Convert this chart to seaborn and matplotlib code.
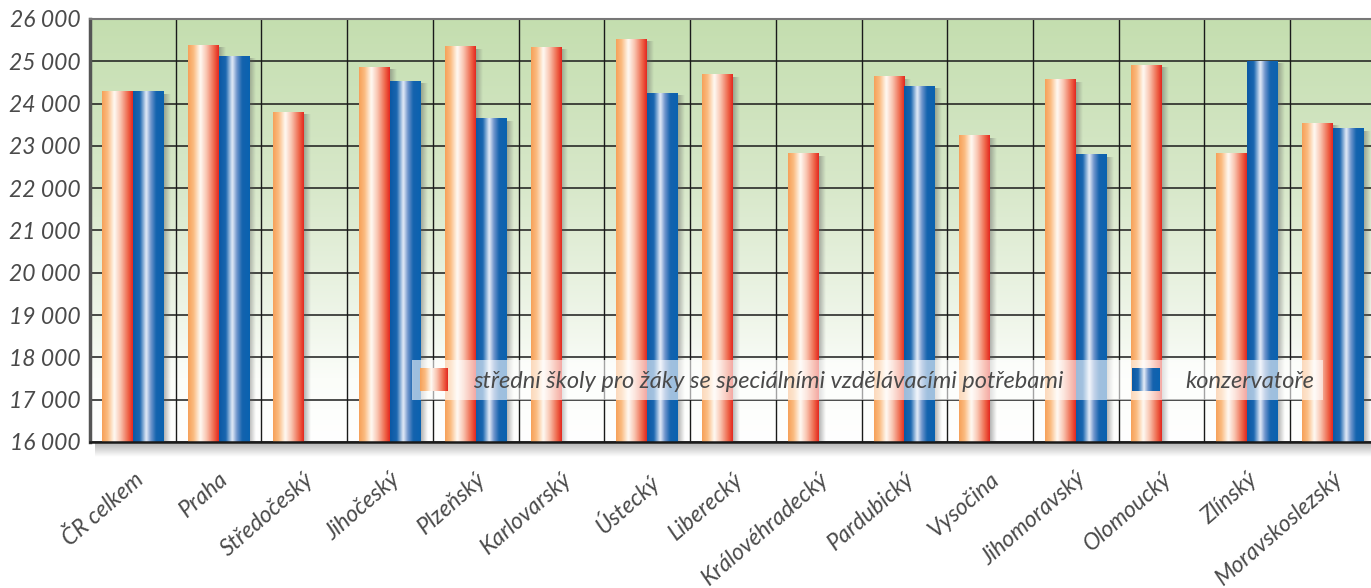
import numpy as np
import pandas as pd
import seaborn as sns
import matplotlib.pyplot as plt
from matplotlib.colors import LinearSegmentedColormap
from matplotlib.legend_handler import HandlerBase
from matplotlib.image import BboxImage
from matplotlib.transforms import Bbox, TransformedBbox

# ----------------------------------------------------------------------
# DATA
# ----------------------------------------------------------------------

regions = ["ČR celkem", "Praha", "Středočeský", "Jihočeský", "Plzeňský",
           "Karlovarský", "Ústecký", "Liberecký", "Královéhradecký",
           "Pardubický", "Vysočina", "Jihomoravský", "Olomoucký", "Zlínský",
           "Moravskoslezský"]

ss_specialni = [24280, 25385, 23800, 24865, 25345, 25330, 25520, 24685,
                22810, 24635, 23235, 24560, 24910, 22815, 23535]

konzervatore = [24280, 25125, np.nan, 24530, 23640, np.nan, 24245, np.nan,
                np.nan, 24415, np.nan, 22785, np.nan, 25005, 23400]

series_names = ["střední školy pro žáky se speciálními vzdělávacími potřebami",
                "konzervatoře"]

y_ticks = list(range(16000, 26001, 1000))

df = pd.DataFrame({
    "kraj": regions * 2,
    "hodnota": ss_specialni + konzervatore,
    "typ": [series_names[0]] * len(regions) + [series_names[1]] * len(regions),
})

# ----------------------------------------------------------------------
# COLOURS
# ----------------------------------------------------------------------

orange_cmap = LinearSegmentedColormap.from_list("orange_bar", [
    (0.00, "#f6a058"), (0.18, "#fbbb80"), (0.40, "#fffaf4"),
    (0.60, "#f9c4b0"), (0.85, "#ee6448"), (1.00, "#e3261f")])
blue_cmap = LinearSegmentedColormap.from_list("blue_bar", [
    (0.00, "#0a58a4"), (0.22, "#1a66b0"), (0.43, "#e6edf8"),
    (0.58, "#6f95cc"), (0.75, "#1463ae"), (1.00, "#0a62b0")])
bg_cmap = LinearSegmentedColormap.from_list("bg", [
    (0.00, "#c4deaf"), (0.40, "#d8e8ca"), (0.70, "#eef5e8"),
    (0.85, "#fbfdf9"), (1.00, "#ffffff")])

palette = {series_names[0]: "#f4a05a", series_names[1]: "#0b62ae"}
text_color = "#4a4a4a"


class GradientHandler(HandlerBase):
    def __init__(self, cmap):
        super().__init__()
        self.cmap = cmap

    def create_artists(self, legend, orig_handle, xdescent, ydescent,
                       width, height, fontsize, trans):
        bb = Bbox.from_bounds(-xdescent, -ydescent, width, height)
        img = BboxImage(TransformedBbox(bb, trans), cmap=self.cmap,
                        interpolation="bicubic")
        img.set_data(np.linspace(0, 1, 256).reshape(1, -1))
        img.set_clim(0, 1)
        return [img]


# ----------------------------------------------------------------------
# PLOT
# ----------------------------------------------------------------------

sns.set_theme(style="white")
plt.rcParams["font.family"] = ["Lato", "DejaVu Sans"]

fig = plt.figure(figsize=(13.71, 5.88), dpi=100)
ax = fig.add_axes([0.0656, 0.2483, 0.938, 0.7194])

sns.barplot(data=df, x="kraj", y="hodnota", hue="typ", palette=palette,
            width=0.72, errorbar=None, ax=ax, legend=True)

ax.set_ylim(y_ticks[0], y_ticks[-1])
ax.set_xlim(-0.5, len(regions) - 0.5)
y0 = ax.get_ylim()[0]

# gradient fills for the bars (replace flat seaborn faces)
for cont, cmap in zip(ax.containers, [orange_cmap, blue_cmap]):
    for p in cont.patches:
        h = p.get_height()
        p.set_visible(False)
        if not np.isfinite(h):
            continue
        x0, w = p.get_x(), p.get_width()
        # soft shadow on the right side
        sh = np.zeros((1, 32, 4))
        sh[..., :3] = 0.35
        sh[0, :, 3] = np.linspace(0.45, 0.0, 32)
        ax.imshow(sh, extent=[x0 + w, x0 + w + 0.07, y0, h - 60],
                  aspect="auto", zorder=1.8, interpolation="bilinear")
        ax.imshow(np.linspace(0, 1, 256).reshape(1, -1), cmap=cmap,
                  extent=[x0, x0 + w, y0, h], aspect="auto", zorder=2,
                  interpolation="bicubic", vmin=0, vmax=1)

# plot area background gradient
ax.imshow(np.linspace(0, 1, 256).reshape(-1, 1), cmap=bg_cmap,
          extent=[0, 1, 0, 1], transform=ax.transAxes, aspect="auto",
          zorder=0, interpolation="bicubic")

# shadow below the plot area
shadow = np.zeros((24, 1, 4))
shadow[..., :3] = 0.45
shadow[:, 0, 3] = np.linspace(0.55, 0.0, 24)
ax.imshow(shadow, extent=[0.004, 1, -0.035, 0], transform=ax.transAxes,
          aspect="auto", zorder=0, clip_on=False, interpolation="bilinear")

ax.set_ylim(y_ticks[0], y_ticks[-1])
ax.set_xlim(-0.5, len(regions) - 0.5)

# grid
ax.set_yticks(y_ticks)
ax.set_yticklabels([f"{v:,}".replace(",", " ") for v in y_ticks])
ax.set_xticks(np.arange(len(regions)) - 0.5, minor=True)
ax.grid(axis="y", which="major", color="#1a1a1a", linewidth=1.1, zorder=0.5)
ax.grid(axis="x", which="minor", color="#1a1a1a", linewidth=1.0, zorder=0.5)
ax.grid(axis="x", which="major", visible=False)
ax.set_axisbelow(True)

# spines
ax.spines["left"].set_color("#555555")
ax.spines["left"].set_linewidth(2.5)
ax.spines["bottom"].set_color("#1a1a1a")
ax.spines["bottom"].set_linewidth(1.8)
ax.spines["top"].set_color("#777777")
ax.spines["top"].set_linewidth(1.5)
ax.spines["right"].set_visible(False)

# tick labels
ax.tick_params(axis="y", length=0, pad=7, labelsize=16.5, labelcolor=text_color)
ax.tick_params(axis="x", which="both", length=0, pad=19)
ax.set_xticks(np.arange(len(regions)))
ax.set_xticklabels(regions, rotation=41, ha="right", va="top",
                   rotation_mode="anchor", fontsize=16.5, color=text_color)
for lab in ax.get_xticklabels() + ax.get_yticklabels():
    lab.set_fontstyle("italic")
    lab.set_fontweight("normal")
ax.set_xlabel("")
ax.set_ylabel("")

# legend
handles, labels = ax.get_legend_handles_labels()
leg = ax.legend(
    handles, labels,
    handler_map={handles[0]: GradientHandler(orange_cmap),
                 handles[1]: GradientHandler(blue_cmap)},
    ncol=2, loc="lower left",
    bbox_to_anchor=(412 / 1371, 1 - 400 / 588), bbox_transform=fig.transFigure,
    frameon=True, fancybox=False, framealpha=0.6, facecolor="white",
    edgecolor="none", borderpad=0.35, borderaxespad=0,
    handlelength=1.15, handleheight=1.1, handletextpad=1.1,
    columnspacing=2.9, prop={"size": 17, "style": "italic", "weight": "normal"},
)
leg.set_zorder(5)
for t in leg.get_texts():
    t.set_color(text_color)

fig.savefig("out.png", dpi=100)
